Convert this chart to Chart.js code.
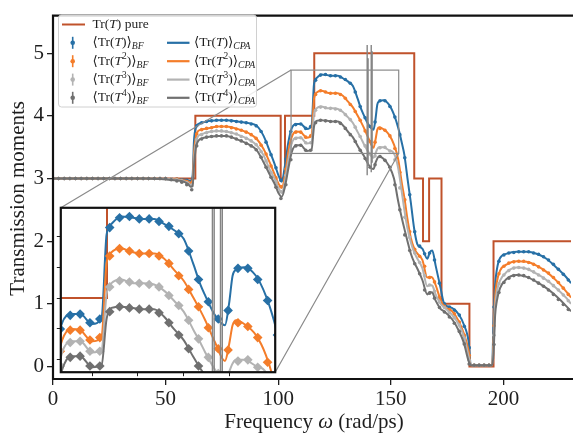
<!DOCTYPE html>
<html lang="en">
<head>
<meta charset="UTF-8">
<title>Transmission moments</title>
<script src="https://cdn.jsdelivr.net/npm/chart.js"></script>
<style>
  html, body { margin: 0; padding: 0; background: #fff; }
  #wrap { position: relative; width: 575px; height: 435px; }
  #mainChart { position: absolute; left: 0; top: 0; }
  #insetChart { position: absolute; left: 56px; top: 203px; }
</style>
</head>
<body>
<div id="wrap">
  <canvas id="mainChart" width="575" height="435"></canvas>
  <canvas id="insetChart" width="224" height="174"></canvas>
</div>
<script>
// ---- data ----
const xTicks = [0, 50, 100, 150, 200];
const yTicks = [0, 1, 2, 3, 4, 5];
const insetXTicks = [112.7, 122.9, 133.1, 143.3];
const insetYTicks = [3.5, 3.75, 4.0, 4.25, 4.5];
const insetRangeX = [105.7, 153.5];
const insetRangeY = [3.4, 4.73];

// pure system, step function
const omegaPure = [0, 63.2, 101.1, 103, 116, 160.4, 164.3, 167, 172.5, 184.9, 195.6, 230];
const trPure    = [3, 4, 3, 4, 5, 3, 2, 3, 1, 0, 2, 2];

// CPA curves
const omegaCPA = [0, 20, 40, 55, 58, 60, 61, 62, 62.6, 63.5,
  64.5, 67, 70, 73, 77, 82, 87.6, 90.5, 93.5, 96.4,
  98.6, 100.1, 101.6, 103, 104.5, 106, 108, 110, 112.7, 114.8,
  115.9, 117, 119.2, 121.8, 124, 126.5, 128.7, 130.9, 133.1, 135.3,
  136.8, 137.9, 140.1, 142.3, 143.2, 144, 144.8, 146.6, 149.2, 151.4,
  153.2, 155, 156, 157.4, 158.9, 160.4, 161.8, 164, 166.2, 167.3,
  168.4, 169.9, 172.1, 173.6, 177.3, 180.2, 182.4, 184.6, 185.5, 190,
  195, 195.6, 196.3, 197.1, 198.5, 201.5, 205.9, 210.3, 214.7, 219.1,
  223.5, 228, 230];
const cpaT1 = [3.0, 3.0, 3.0, 2.99, 2.98, 2.97, 2.96, 3.05, 3.6, 3.82,
  3.87, 3.90, 3.92, 3.93, 3.93, 3.91, 3.88, 3.84, 3.68, 3.42,
  3.21, 3.05, 2.95, 3.21, 3.58, 3.80, 3.87, 3.87, 3.79, 3.84,
  4.51, 4.60, 4.66, 4.65, 4.64, 4.64, 4.60, 4.55, 4.48, 4.27,
  4.11, 4.02, 3.86, 3.78, 3.95, 4.18, 4.23, 4.25, 4.18, 4.02,
  3.82, 3.55, 3.38, 3.0, 2.61, 2.19, 1.95, 1.88, 1.72, 1.82,
  1.85, 1.61, 1.25, 1.01, 0.93, 0.83, 0.67, 0.38, 0.02, 0.02,
  0.02, 0.75, 1.30, 1.55, 1.73, 1.80, 1.83, 1.83, 1.80, 1.72,
  1.58, 1.42, 1.33];
const cpaT2 = [3.0, 3.0, 3.0, 2.99, 2.97, 2.95, 2.93, 2.98, 3.4, 3.68,
  3.76, 3.79, 3.81, 3.83, 3.83, 3.79, 3.71, 3.63, 3.47, 3.24,
  3.05, 2.92, 2.85, 3.05, 3.43, 3.66, 3.75, 3.74, 3.65, 3.69,
  4.28, 4.37, 4.40, 4.37, 4.36, 4.36, 4.32, 4.23, 4.14, 4.00,
  3.90, 3.82, 3.64, 3.49, 3.62, 3.78, 3.82, 3.79, 3.70, 3.54,
  3.32, 2.90, 2.70, 2.35, 2.05, 1.88, 1.80, 1.70, 1.42, 1.43,
  1.42, 1.30, 1.06, 0.96, 0.88, 0.72, 0.53, 0.24, 0.02, 0.02,
  0.02, 0.43, 1.10, 1.35, 1.53, 1.63, 1.68, 1.67, 1.61, 1.51,
  1.37, 1.19, 1.10];
const cpaT3 = [3.0, 3.0, 3.0, 2.98, 2.96, 2.93, 2.90, 2.92, 3.3, 3.58,
  3.68, 3.72, 3.75, 3.76, 3.75, 3.70, 3.61, 3.53, 3.37, 3.13,
  2.98, 2.85, 2.77, 2.96, 3.29, 3.56, 3.65, 3.65, 3.56, 3.58,
  4.03, 4.12, 4.15, 4.12, 4.12, 4.11, 4.06, 3.98, 3.89, 3.74,
  3.64, 3.56, 3.42, 3.33, 3.40, 3.47, 3.50, 3.50, 3.45, 3.40,
  3.18, 2.75, 2.50, 2.20, 1.98, 1.82, 1.72, 1.57, 1.28, 1.30,
  1.29, 1.15, 1.00, 0.95, 0.82, 0.67, 0.48, 0.15, 0.02, 0.02,
  0.02, 0.30, 0.95, 1.20, 1.37, 1.51, 1.58, 1.56, 1.48, 1.38,
  1.25, 1.09, 1.00];
const cpaT4 = [3.0, 3.0, 3.0, 2.97, 2.95, 2.91, 2.87, 2.88, 3.2, 3.5,
  3.60, 3.65, 3.67, 3.68, 3.68, 3.62, 3.53, 3.45, 3.26, 3.05,
  2.90, 2.77, 2.71, 2.87, 3.16, 3.42, 3.53, 3.53, 3.44, 3.46,
  3.83, 3.92, 3.93, 3.92, 3.91, 3.91, 3.85, 3.75, 3.66, 3.52,
  3.43, 3.37, 3.22, 3.15, 3.25, 3.32, 3.35, 3.32, 3.20, 3.00,
  2.65, 2.35, 2.20, 2.00, 1.80, 1.66, 1.56, 1.38, 1.15, 1.19,
  1.18, 1.05, 0.92, 0.88, 0.75, 0.57, 0.38, 0.08, 0.02, 0.02,
  0.02, 0.20, 0.81, 1.05, 1.25, 1.40, 1.46, 1.43, 1.35, 1.25,
  1.12, 0.96, 0.88];

// brute-force samples
const omegaBF = [0, 2.5, 5, 7.5, 10, 12.5, 15, 17.5, 20, 22.5, 25, 27.5,
  30, 32.5, 35, 37.5, 40, 42.5, 45, 47.5, 50, 52.5, 55,
  57.2, 59.4, 61.6, 63.8, 66, 68.2, 70.4, 72.6, 74.8, 77,
  79.2, 81.4, 83.6, 85.8, 88, 90.2, 92.4, 94.6, 96.8, 99,
  101.2, 103.4, 105.6, 107.8, 110, 112.2, 114.4, 116.6, 118.8, 121,
  123.2, 125.4, 127.6, 129.8, 132, 134.2, 136.4, 138.6, 140.8, 143,
  145.2, 147.4, 149.6, 151.8, 154, 156.2, 158.4, 160.6, 162.8, 165,
  167.2, 169.4, 171.6, 173.8, 176, 178.2, 180.4, 182.6, 184.8, 187,
  189.2, 191.4, 193.6, 195.8, 198, 200.2, 202.4, 204.6, 206.8, 209,
  211.2, 213.4, 215.6, 217.8, 220, 222.2, 224.4, 226.6, 228.8];
const bfT1 = [3.0, 3.0, 3.0, 3.0, 3.0, 3.0, 3.0, 3.0, 3.0, 3.0, 3.0, 3.0,
  3.0, 3.0, 3.0, 3.0, 3.0, 3.0, 3.0, 3.0, 3.0, 2.99, 2.99,
  2.98, 2.97, 2.96, 3.84, 3.89, 3.91, 3.92, 3.93, 3.93, 3.93,
  3.92, 3.91, 3.90, 3.89, 3.87, 3.84, 3.75, 3.58, 3.38, 3.17,
  2.97, 3.31, 3.75, 3.86, 3.87, 3.80, 3.83, 4.57, 4.65, 4.66,
  4.64, 4.64, 4.62, 4.58, 4.52, 4.38, 4.15, 3.97, 3.83, 3.90,
  4.24, 4.24, 4.15, 3.98, 3.70, 3.33, 2.74, 2.15, 1.92, 1.80,
  1.81, 1.70, 1.33, 1.00, 0.95, 0.90, 0.82, 0.64, 0.30, 0.02,
  0.02, 0.02, 0.02, 0.95, 1.68, 1.78, 1.81, 1.82, 1.83, 1.83,
  1.83, 1.81, 1.79, 1.75, 1.70, 1.63, 1.55, 1.47, 1.38];
const bfT2 = [3.0, 3.0, 3.0, 3.0, 3.0, 3.0, 3.0, 3.0, 3.0, 3.0, 3.0, 3.0,
  3.0, 3.0, 3.0, 3.0, 3.0, 3.0, 3.0, 3.0, 3.0, 2.99, 2.99,
  2.97, 2.95, 2.93, 3.71, 3.78, 3.80, 3.81, 3.83, 3.83, 3.83,
  3.81, 3.79, 3.77, 3.74, 3.70, 3.64, 3.53, 3.39, 3.20, 3.01,
  2.87, 3.15, 3.57, 3.74, 3.74, 3.66, 3.68, 4.34, 4.40, 4.38,
  4.36, 4.36, 4.34, 4.28, 4.18, 4.07, 3.93, 3.76, 3.59, 3.58,
  3.80, 3.77, 3.68, 3.48, 3.10, 2.66, 2.15, 1.87, 1.76, 1.60,
  1.42, 1.35, 1.10, 0.96, 0.91, 0.84, 0.71, 0.50, 0.18, 0.02,
  0.02, 0.02, 0.02, 0.65, 1.48, 1.60, 1.65, 1.67, 1.68, 1.68,
  1.66, 1.63, 1.59, 1.54, 1.49, 1.42, 1.34, 1.25, 1.15];
const bfT3 = [3.0, 3.0, 3.0, 3.0, 3.0, 3.0, 3.0, 3.0, 3.0, 3.0, 3.0, 3.0,
  3.0, 3.0, 3.0, 3.0, 3.0, 3.0, 3.0, 3.0, 3.0, 2.99, 2.98,
  2.96, 2.93, 2.88, 3.62, 3.70, 3.73, 3.75, 3.76, 3.76, 3.75,
  3.73, 3.71, 3.67, 3.64, 3.60, 3.54, 3.43, 3.28, 3.10, 2.95,
  2.79, 3.05, 3.45, 3.64, 3.65, 3.57, 3.57, 4.09, 4.14, 4.13,
  4.12, 4.11, 4.09, 4.02, 3.94, 3.82, 3.67, 3.52, 3.39, 3.36,
  3.49, 3.50, 3.44, 3.30, 2.85, 2.38, 2.06, 1.81, 1.66, 1.45,
  1.30, 1.20, 1.03, 0.94, 0.86, 0.78, 0.66, 0.45, 0.10, 0.02,
  0.02, 0.02, 0.02, 0.50, 1.32, 1.46, 1.53, 1.57, 1.58, 1.57,
  1.55, 1.51, 1.46, 1.41, 1.36, 1.29, 1.22, 1.14, 1.05];
const bfT4 = [3.0, 3.0, 3.0, 3.0, 3.0, 3.0, 3.0, 3.0, 3.0, 3.0, 3.0, 3.0,
  3.0, 3.0, 3.0, 3.0, 3.0, 3.0, 3.0, 3.0, 3.0, 2.98, 2.96,
  2.94, 2.90, 2.82, 3.52, 3.63, 3.66, 3.67, 3.68, 3.68, 3.68,
  3.66, 3.63, 3.60, 3.56, 3.52, 3.46, 3.34, 3.18, 3.02, 2.86,
  2.68, 2.90, 3.30, 3.52, 3.53, 3.45, 3.45, 3.89, 3.93, 3.92,
  3.91, 3.91, 3.88, 3.80, 3.70, 3.59, 3.45, 3.32, 3.18, 3.22,
  3.35, 3.29, 3.18, 2.90, 2.50, 2.10, 1.85, 1.64, 1.48, 1.22,
  1.17, 1.09, 0.94, 0.87, 0.79, 0.69, 0.56, 0.36, 0.04, 0.02,
  0.02, 0.02, 0.02, 0.35, 1.18, 1.34, 1.41, 1.45, 1.46, 1.45,
  1.42, 1.38, 1.33, 1.28, 1.22, 1.15, 1.07, 0.99, 0.91];

// large error bars of the brute-force samples near 140 rad/ps
const spikeOmega = [139.5, 139.9, 141.3, 141.7];
const spikeLow   = [3.05, 3.20, 3.10, 3.25];
const spikeHigh  = [5.13, 4.92, 5.13, 5.03];

// ---- styling ----
const FONT = '"Liberation Serif", "DejaVu Serif", serif';
const INK = '#1e1e1e';
const RED = '#c0522b';
const series = [
  { cpa: cpaT1, bf: bfT1, color: '#2770a6', sup: '' },
  { cpa: cpaT2, bf: bfT2, color: '#f47d2a', sup: '2' },
  { cpa: cpaT3, bf: bfT3, color: '#b3b3b3', sup: '3' },
  { cpa: cpaT4, bf: bfT4, color: '#707070', sup: '4' }
];

function pts(xs, ys) { return xs.map((x, i) => ({ x: x, y: ys[i] })); }

function spikePoints() {
  const out = [];
  spikeOmega.forEach((w, i) => {
    out.push({ x: w, y: spikeLow[i] }, { x: w, y: spikeHigh[i] }, { x: w, y: null });
  });
  return out;
}

function buildDatasets(inset) {
  const ds = [{
    data: pts(omegaPure, trPure), stepped: 'before', borderColor: RED,
    borderWidth: 2, pointRadius: 0, order: 20
  }];
  series.forEach((s, i) => {
    ds.push({
      data: pts(omegaBF, s.bf), showLine: false,
      pointStyle: inset ? 'rectRot' : 'circle',
      pointRadius: inset ? 4.8 : 1.8, pointBorderWidth: 0,
      pointBackgroundColor: s.color, order: 12 - 2 * i
    });
    ds.push({
      data: pts(omegaCPA, s.cpa), borderColor: s.color, borderWidth: 2,
      pointRadius: 0, cubicInterpolationMode: 'monotone', order: 11 - 2 * i
    });
  });
  ds.push({
    data: spikePoints(), borderColor: '#858585', borderWidth: 1.4,
    pointRadius: 0, spanGaps: false, order: 1
  });
  return ds;
}

function fixedTicks(list) {
  return s => { s.ticks = list.map(v => ({ value: v })); };
}

// ---- inset ----
const insetChart = new Chart(document.getElementById('insetChart'), {
  type: 'line',
  data: { datasets: buildDatasets(true) },
  options: {
    responsive: false, animation: false,
    layout: { padding: { top: 2, right: 2, left: 0, bottom: 0 } },
    plugins: { legend: { display: false }, tooltip: { enabled: false } },
    scales: {
      x: {
        type: 'linear', min: insetRangeX[0], max: insetRangeX[1],
        afterBuildTicks: fixedTicks(insetXTicks),
        ticks: { display: false },
        grid: { drawOnChartArea: false, drawTicks: true, tickLength: 4, color: INK, lineWidth: 1 },
        border: { display: false }
      },
      y: {
        min: insetRangeY[0], max: insetRangeY[1],
        afterBuildTicks: fixedTicks(insetYTicks),
        ticks: { display: false },
        grid: { drawOnChartArea: false, drawTicks: true, tickLength: 4, color: INK, lineWidth: 1 },
        border: { display: false }
      }
    }
  },
  plugins: [{
    id: 'insetFrame',
    beforeDraw(chart) {
      const a = chart.chartArea, ctx = chart.ctx;
      ctx.save();
      ctx.fillStyle = '#fff';
      ctx.fillRect(a.left, a.top, a.right - a.left, a.bottom - a.top);
      ctx.restore();
    },
    afterDraw(chart) {
      const a = chart.chartArea, ctx = chart.ctx;
      ctx.save();
      ctx.strokeStyle = '#111';
      ctx.lineWidth = 2.2;
      ctx.strokeRect(a.left, a.top, a.right - a.left, a.bottom - a.top);
      ctx.restore();
    }
  }]
});

// ---- text helpers ----
function drawRuns(ctx, x, y, runs, size) {
  runs.forEach(r => {
    const fs = size * (r.scale || 1);
    ctx.font = (r.italic ? 'italic ' : '') + fs + 'px ' + FONT;
    ctx.fillText(r.t, x, y + (r.dy || 0) * size);
    x += ctx.measureText(r.t).width;
  });
  return x;
}

function momentRuns(sup, sub) {
  const runs = [{ t: '\u27E8Tr(' }, { t: 'T', italic: true }];
  if (sup) runs.push({ t: sup, scale: 0.7, dy: -0.33 });
  runs.push({ t: ')\u27E9' });
  runs.push({ t: sub, italic: true, scale: 0.72, dy: 0.3 });
  return runs;
}

// ---- main chart ----
const mainPlugin = {
  id: 'decor',
  afterDatasetsDraw(chart) {
    const ctx = chart.ctx, xs = chart.scales.x, ys = chart.scales.y;
    const x0 = xs.getPixelForValue(insetRangeX[0]), x1 = xs.getPixelForValue(insetRangeX[1]);
    const y0 = ys.getPixelForValue(insetRangeY[1]), y1 = ys.getPixelForValue(insetRangeY[0]);
    const cv = insetChart.canvas, ia = insetChart.chartArea;
    const il = cv.offsetLeft + ia.left, it = cv.offsetTop + ia.top;
    const ir = cv.offsetLeft + ia.right, ib = cv.offsetTop + ia.bottom;
    ctx.save();
    ctx.strokeStyle = '#8a8a8a';
    ctx.lineWidth = 1.2;
    ctx.strokeRect(x0, y0, x1 - x0, y1 - y0);
    ctx.beginPath();
    ctx.moveTo(x0, y0); ctx.lineTo(il, it);
    ctx.moveTo(x1, y1); ctx.lineTo(ir, ib);
    ctx.stroke();
    ctx.restore();
  },
  afterDraw(chart) {
    const ctx = chart.ctx, a = chart.chartArea;
    ctx.save();
    // frame
    ctx.strokeStyle = '#111';
    ctx.lineWidth = 2.2;
    ctx.beginPath();
    ctx.moveTo(a.right + 2, a.top); ctx.lineTo(a.left, a.top);
    ctx.lineTo(a.left, a.bottom); ctx.lineTo(a.right + 2, a.bottom);
    ctx.stroke();

    // axis titles
    ctx.fillStyle = INK;
    ctx.textBaseline = 'middle';
    ctx.textAlign = 'center';
    ctx.font = '21px ' + FONT;
    ctx.save();
    ctx.translate(18, (a.top + a.bottom) / 2 + 1);
    ctx.rotate(-Math.PI / 2);
    ctx.fillText('Transmission moments', 0, 0);
    ctx.restore();

    ctx.textAlign = 'left';
    const xRuns = [{ t: 'Frequency ' }, { t: '\u03C9', italic: true }, { t: ' (rad/ps)' }];
    let w = 0;
    xRuns.forEach(r => { ctx.font = (r.italic ? 'italic ' : '') + '21px ' + FONT; w += ctx.measureText(r.t).width; });
    drawRuns(ctx, 314 - w / 2, 422, xRuns, 21);

    // legend
    const lx = 58.5, ly = 15, lw = 198, lh = 92;
    ctx.beginPath();
    ctx.roundRect(lx, ly, lw, lh, 3);
    ctx.fillStyle = 'rgba(255,255,255,0.85)';
    ctx.fill();
    ctx.strokeStyle = '#d0d0d0';
    ctx.lineWidth = 1;
    ctx.stroke();

    const fs = 13.5, rowY = [24.5, 42.8, 61.2, 79.6, 97.8];
    ctx.fillStyle = INK;
    ctx.strokeStyle = RED; ctx.lineWidth = 2;
    ctx.beginPath(); ctx.moveTo(62, rowY[0]); ctx.lineTo(85, rowY[0]); ctx.stroke();
    drawRuns(ctx, 92.5, rowY[0], [{ t: 'Tr(' }, { t: 'T', italic: true }, { t: ') pure' }], fs);

    series.forEach((s, i) => {
      const y = rowY[i + 1];
      ctx.strokeStyle = s.color; ctx.fillStyle = s.color;
      ctx.lineWidth = 1.6;
      ctx.beginPath(); ctx.moveTo(72.7, y - 6); ctx.lineTo(72.7, y + 6); ctx.stroke();
      ctx.beginPath(); ctx.arc(72.7, y, 2.3, 0, Math.PI * 2); ctx.fill();
      ctx.lineWidth = 2.2;
      ctx.beginPath(); ctx.moveTo(167, y); ctx.lineTo(189.5, y); ctx.stroke();
      ctx.fillStyle = INK;
      drawRuns(ctx, 92.5, y, momentRuns(s.sup, 'BF'), fs);
      drawRuns(ctx, 194, y, momentRuns(s.sup, 'CPA'), fs);
    });
    ctx.restore();
  }
};

new Chart(document.getElementById('mainChart'), {
  type: 'line',
  data: { datasets: buildDatasets(false) },
  options: {
    responsive: false, animation: false,
    layout: { padding: { top: 10, right: 0, left: 0, bottom: 0 } },
    plugins: { legend: { display: false }, tooltip: { enabled: false } },
    scales: {
      x: {
        type: 'linear', min: 0, max: 230,
        afterBuildTicks: fixedTicks(xTicks),
        afterFit: s => { s.height = 56; },
        ticks: { font: { family: FONT, size: 21 }, color: INK, padding: 2, maxRotation: 0 },
        grid: { drawOnChartArea: false, drawTicks: true, tickLength: 6, color: INK, lineWidth: 1.3 },
        border: { display: false }
      },
      y: {
        min: -0.2, max: 5.6,
        afterBuildTicks: fixedTicks(yTicks),
        afterFit: s => { s.width = 53; },
        ticks: { font: { family: FONT, size: 21 }, color: INK, padding: 3 },
        grid: { drawOnChartArea: false, drawTicks: true, tickLength: 6, color: INK, lineWidth: 1.3 },
        border: { display: false }
      }
    }
  },
  plugins: [mainPlugin]
});
</script>
</body>
</html>
